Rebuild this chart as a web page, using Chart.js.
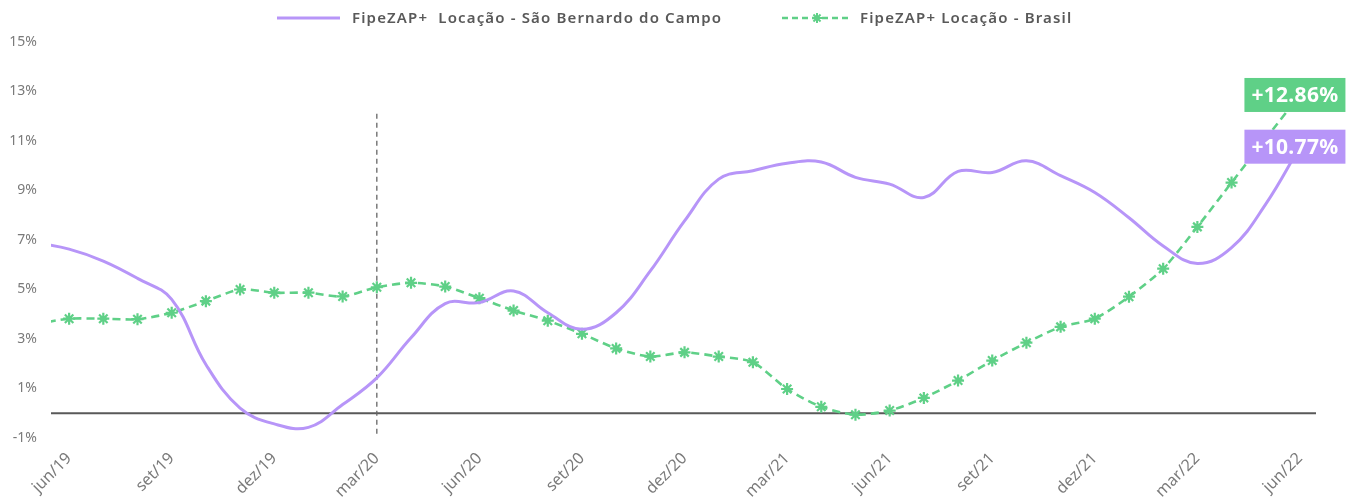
<!DOCTYPE html>
<html>
<head>
<meta charset="utf-8">
<script src="https://cdn.jsdelivr.net/npm/chart.js@4"></script>
<style>
  html, body { margin: 0; padding: 0; background: #fff; }
  #wrap { width: 1351px; height: 500px; position: relative; }
</style>
</head>
<body>
<div id="wrap"><canvas id="c"></canvas></div>
<script>
// Categories (monthly); the first month only feeds the line entering the left edge
const months = ['mai/19','jun/19','jul/19','ago/19','set/19','out/19','nov/19','dez/19',
  'jan/20','fev/20','mar/20','abr/20','mai/20','jun/20','jul/20','ago/20','set/20','out/20','nov/20','dez/20',
  'jan/21','fev/21','mar/21','abr/21','mai/21','jun/21','jul/21','ago/21','set/21','out/21','nov/21','dez/21',
  'jan/22','fev/22','mar/22','abr/22','mai/22','jun/22'];

// Tick labels shown on the x axis
const xTickLabels = ['jun/19','set/19','dez/19','mar/20','jun/20','set/20','dez/20','mar/21','jun/21','set/21','dez/21','mar/22','jun/22'];

// Series values (% variation, 12 months)
const saoBernardo = [6.9,
  6.63, 6.15, 5.45, 4.6, 1.97, 0.21, -0.43, -0.57, 0.35, 1.43,
  3.05, 4.43, 4.47, 4.94, 4.06, 3.39, 4.06, 5.75, 7.77, 9.46,
  9.8, 10.1, 10.15, 9.53, 9.26, 8.72, 9.77, 9.73, 10.2, 9.6,
  8.92, 7.9, 6.76, 6.05, 6.69, 8.45, 10.77];

const brasil = [3.6,
  3.82, 3.82, 3.8, 4.06, 4.53, 5.0, 4.87, 4.87, 4.72, 5.09,
  5.27, 5.12, 4.65, 4.15, 3.74, 3.21, 2.62, 2.29, 2.46, 2.29,
  2.06, 0.98, 0.26, -0.06, 0.11, 0.62, 1.32, 2.13, 2.85, 3.49,
  3.82, 4.71, 5.84, 7.53, 9.32, 11.1, 12.86];

const seriesNames = ['FipeZAP+  Locação - São Bernardo do Campo', 'FipeZAP+ Locação - Brasil'];
const endLabels = ['+10.77%', '+12.86%'];
const yTicks = [-1, 1, 3, 5, 7, 9, 11, 13, 15];
const eventMonth = 'mar/20';
const eventRange = [12.1, -0.85];

const PURPLE = '#B795F8';
const GREEN = '#5FD087';
const FONT = "'Noto Sans', sans-serif";

const toPoints = arr => arr.map((v, i) => ({ x: i, y: v }));

const extras = {
  id: 'extras',
  beforeDatasetsDraw(chart) {
    const { ctx, chartArea, scales } = chart;
    const y0 = scales.y.getPixelForValue(0);
    ctx.save();
    ctx.strokeStyle = '#595959';
    ctx.lineWidth = 2;
    ctx.beginPath();
    ctx.moveTo(chartArea.left, y0);
    ctx.lineTo(chartArea.right, y0);
    ctx.stroke();
    const xe = scales.x.getPixelForValue(months.indexOf(eventMonth));
    ctx.strokeStyle = '#666';
    ctx.lineWidth = 1.3;
    ctx.setLineDash([5, 4]);
    ctx.beginPath();
    ctx.moveTo(xe, scales.y.getPixelForValue(eventRange[0]));
    ctx.lineTo(xe, scales.y.getPixelForValue(eventRange[1]));
    ctx.stroke();
    ctx.restore();
  },
  afterDraw(chart) {
    const { ctx } = chart;
    ctx.save();
    const ly = 18;
    ctx.lineWidth = 3;
    ctx.strokeStyle = PURPLE;
    ctx.beginPath(); ctx.moveTo(277, ly); ctx.lineTo(340, ly); ctx.stroke();
    ctx.font = "600 15px " + FONT;
    try { ctx.letterSpacing = '1.15px'; } catch (e) {}
    ctx.fillStyle = '#595959';
    ctx.textBaseline = 'middle';
    ctx.textAlign = 'left';
    ctx.fillText(seriesNames[0], 352, ly + 1);
    ctx.strokeStyle = GREEN;
    ctx.lineWidth = 2.5;
    ctx.setLineDash([6, 4]);
    ctx.beginPath(); ctx.moveTo(782, ly); ctx.lineTo(850, ly); ctx.stroke();
    ctx.setLineDash([]);
    ctx.lineWidth = 2;
    const sx = 817, r = 5;
    ctx.beginPath();
    for (let k = 0; k < 4; k++) {
      const a = k * Math.PI / 4;
      ctx.moveTo(sx - Math.cos(a) * r, ly - Math.sin(a) * r);
      ctx.lineTo(sx + Math.cos(a) * r, ly + Math.sin(a) * r);
    }
    ctx.stroke();
    ctx.fillText(seriesNames[1], 860, ly + 1);

    try { ctx.letterSpacing = '0.3px'; } catch (e) {}
    ctx.font = "bold 21px " + FONT;
    ctx.textAlign = 'center';
    chart.data.datasets.forEach((ds, i) => {
      const meta = chart.getDatasetMeta(i);
      const pt = meta.data[meta.data.length - 1];
      const txt = endLabels[i];
      const w = ctx.measureText(txt).width + 14;
      const h = 34;
      const cx = pt.x - 5;
      ctx.fillStyle = ds.borderColor;
      ctx.fillRect(cx - w / 2, pt.y - h / 2, w, h);
      ctx.fillStyle = '#fff';
      ctx.fillText(txt, cx, pt.y + 1);
    });
    ctx.restore();
  }
};

new Chart(document.getElementById('c'), {
  type: 'line',
  data: {
    datasets: [
      {
        label: seriesNames[0],
        data: toPoints(saoBernardo),
        borderColor: PURPLE,
        backgroundColor: PURPLE,
        borderWidth: 3,
        tension: 0.4,
        pointRadius: 0,
        fill: false
      },
      {
        label: seriesNames[1],
        data: toPoints(brasil),
        borderColor: GREEN,
        backgroundColor: GREEN,
        borderWidth: 2.6,
        borderDash: [8, 5],
        tension: 0.25,
        pointStyle: 'star',
        pointRadius: 6,
        pointBorderWidth: 2.2,
        pointBorderColor: GREEN,
        fill: false
      }
    ]
  },
  options: {
    responsive: true,
    maintainAspectRatio: false,
    animation: false,
    layout: { padding: { top: 42, right: 35, left: 0, bottom: 0 } },
    plugins: { legend: { display: false }, tooltip: { enabled: false } },
    scales: {
      x: {
        type: 'linear',
        min: 0.47,
        max: months.length - 0.53,
        grid: { display: false },
        border: { display: false },
        afterBuildTicks: s => { s.ticks = xTickLabels.map(l => ({ value: months.indexOf(l) })); },
        afterFit: s => { s.height = 62; },
        ticks: {
          autoSkip: false,
          minRotation: 45,
          maxRotation: 45,
          padding: 3,
          color: '#7a7a7a',
          font: { family: FONT, size: 16 },
          callback: v => months[v]
        }
      },
      y: {
        min: -1,
        max: 15,
        grid: { display: false, drawTicks: false },
        border: { display: false },
        afterBuildTicks: s => { s.ticks = yTicks.map(v => ({ value: v })); },
        afterFit: s => { s.width = 51; },
        ticks: {
          padding: 14,
          color: '#7a7a7a',
          font: { family: FONT, size: 14 },
          callback: v => v + '%'
        }
      }
    }
  },
  plugins: [extras]
});
</script>
</body>
</html>
